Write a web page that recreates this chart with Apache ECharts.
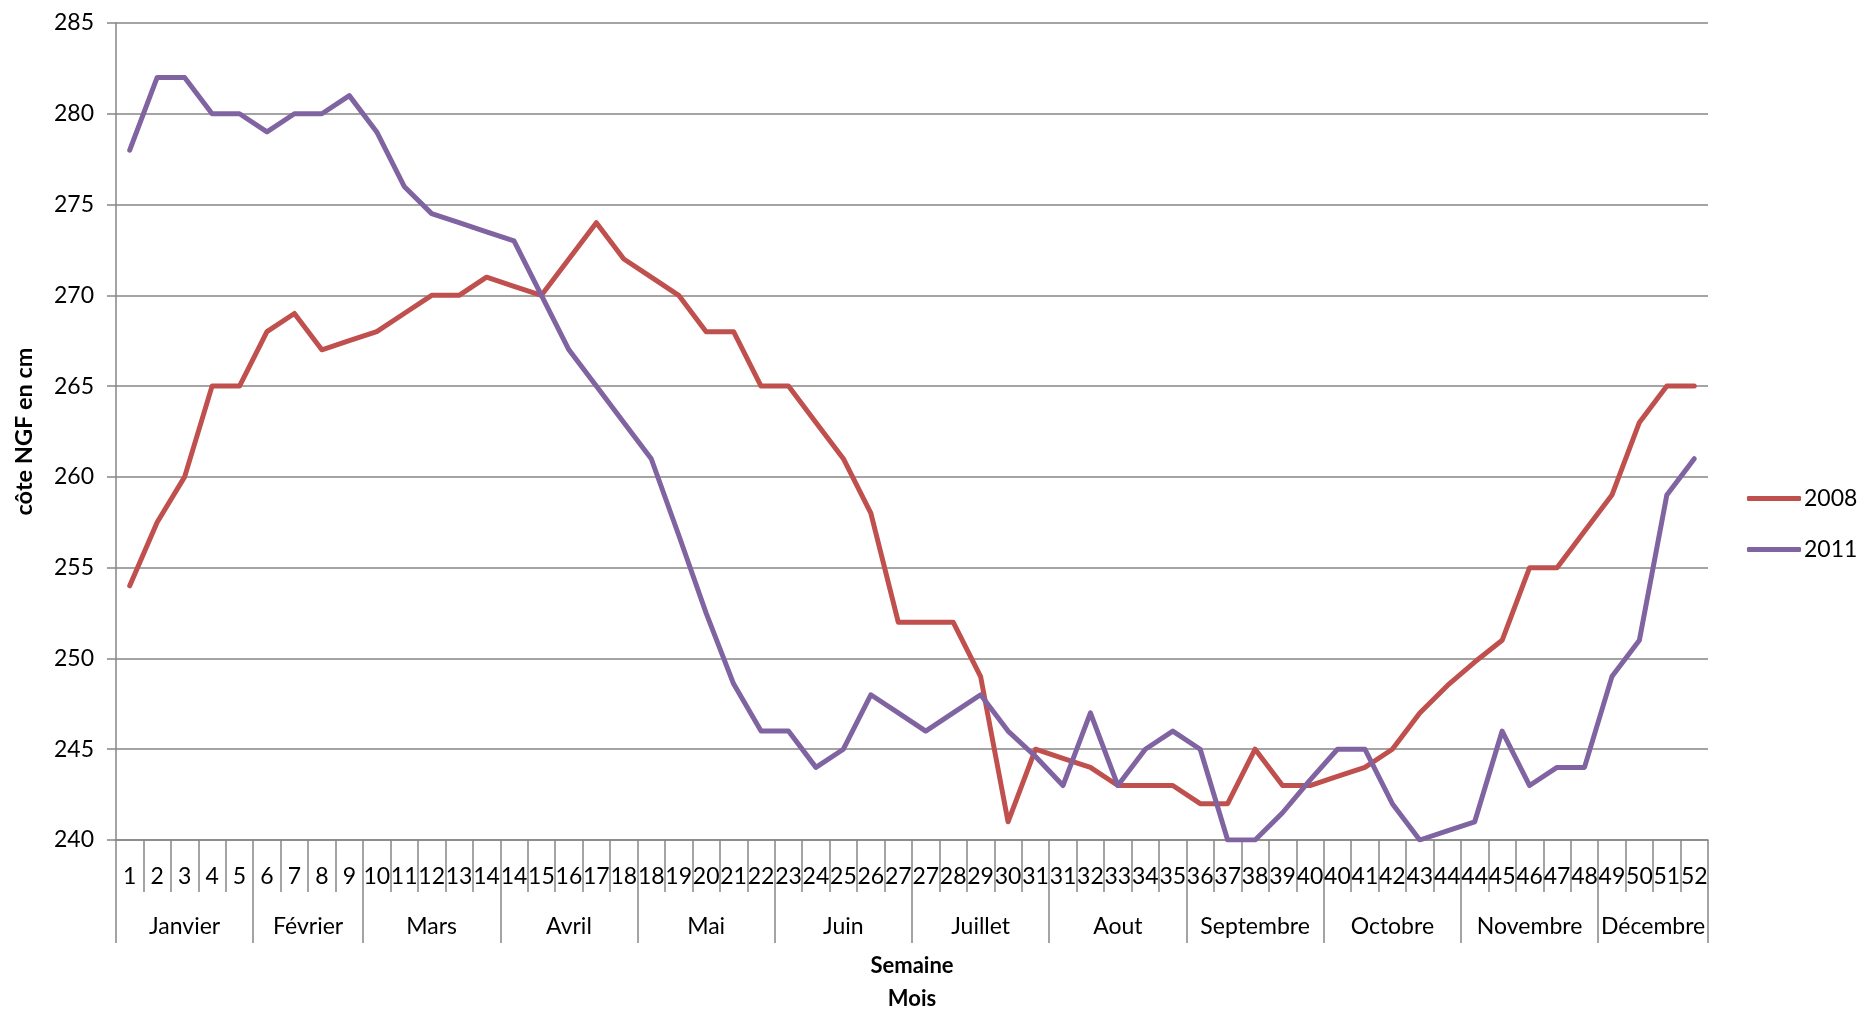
<!DOCTYPE html>
<html>
<head>
<meta charset="utf-8">
<script src="https://cdn.jsdelivr.net/npm/echarts@6/dist/echarts.min.js"></script>
<style>
  html, body { margin: 0; padding: 0; background: #fff; }
  #chart { width: 1865px; height: 1015px; }
</style>
</head>
<body>
<div id="chart"></div>
<script>
// Week numbers along the axis (weeks shared by two months appear twice)
const weeks = ['1','2','3','4','5','6','7','8','9','10','11','12','13','14',
  '14','15','16','17','18','18','19','20','21','22','23','24','25','26','27',
  '27','28','29','30','31','31','32','33','34','35','36','37','38','39','40',
  '40','41','42','43','44','44','45','46','47','48','49','50','51','52'];

// Months and how many week slots each one spans
const months = ['Janvier','Février','Mars','Avril','Mai','Juin','Juillet','Aout',
  'Septembre','Octobre','Novembre','Décembre'];
const monthSpans = [5, 4, 5, 5, 5, 5, 5, 5, 5, 5, 5, 4];

// Water level (côte NGF, cm) per week slot
const level2008 = [254, 257.5, 260, 265, 265, 268, 269, 267, 267.5, 268, 269, 270, 270, 271,
  270.5, 270, 272, 274, 272, 271, 270, 268, 268, 265, 265, 263, 261, 258, 252,
  252, 252, 249, 241, 245, 244.5, 244, 243, 243, 243, 242, 242, 245, 243, 243,
  243.5, 244, 245, 247, 248.5, 249.8, 251, 255, 255, 257, 259, 263, 265, 265];
const level2011 = [278, 282, 282, 280, 280, 279, 280, 280, 281, 279, 276, 274.5, 274, 273.5,
  273, 270, 267, 265, 263, 261, 256.8, 252.5, 248.6, 246, 246, 244, 245, 248, 247,
  246, 247, 248, 246, 244.6, 243, 247, 243, 245, 246, 245, 240, 240, 241.5, 243.3,
  245, 245, 242, 240, 240.5, 241, 246, 243, 244, 244, 249, 251, 259, 261];

const yMin = 240, yMax = 285, yStep = 5;

// Month boundaries and label positions on the week scale
const monthBounds = [0];
const monthCenters = [];
monthSpans.forEach(function (n, i) {
  monthCenters.push(monthBounds[i] + n / 2);
  monthBounds.push(monthBounds[i] + n);
});

const FONT = 'Lato, "Liberation Sans", sans-serif';
const GRID = '#868686';

const chart = echarts.init(document.getElementById('chart'), null, { renderer: 'canvas' });
chart.setOption({
  backgroundColor: '#ffffff',
  animation: false,
  textStyle: { fontFamily: FONT, color: '#000' },
  grid: { left: 116, right: 157, top: 23, bottom: 169, containLabel: false },
  legend: {
    orient: 'vertical',
    left: 1742,
    top: 482,
    icon: 'roundRect',
    itemWidth: 54,
    itemHeight: 5,
    itemGap: 28,
    textStyle: { fontFamily: FONT, fontSize: 23, color: '#000', padding: [0, 0, 0, -2] },
    data: ['2008', '2011']
  },
  xAxis: [
    {
      type: 'category',
      data: weeks,
      boundaryGap: true,
      position: 'bottom',
      name: 'Semaine',
      nameLocation: 'middle',
      nameGap: 115,
      nameTextStyle: { fontFamily: FONT, fontSize: 22, fontWeight: 'bold', color: '#000' },
      axisLine: { show: true, lineStyle: { color: GRID, width: 1.5 } },
      axisTick: { show: true, interval: 0, length: 52, lineStyle: { color: GRID, width: 1.5 } },
      axisLabel: { interval: 0, margin: 25, fontSize: 23, color: '#000', fontFamily: FONT },
      splitLine: { show: false }
    },
    {
      type: 'value',
      min: 0,
      max: weeks.length,
      position: 'bottom',
      name: 'Mois',
      nameLocation: 'middle',
      nameGap: 148,
      nameTextStyle: { fontFamily: FONT, fontSize: 22, fontWeight: 'bold', color: '#000' },
      axisLine: { show: false },
      axisTick: { show: true, customValues: monthBounds, length: 103, lineStyle: { color: GRID, width: 1.5 } },
      axisLabel: {
        customValues: monthCenters,
        margin: 75,
        fontSize: 23,
        color: '#000',
        fontFamily: FONT,
        formatter: function (v) {
          const i = monthCenters.indexOf(v);
          return i >= 0 ? months[i] : '';
        }
      },
      splitLine: { show: false }
    }
  ],
  yAxis: {
    type: 'value',
    min: yMin,
    max: yMax,
    interval: yStep,
    name: 'côte NGF en cm',
    nameLocation: 'middle',
    nameGap: 80,
    nameRotate: 90,
    nameTextStyle: { fontFamily: FONT, fontSize: 23.5, fontWeight: 'bold', color: '#000' },
    axisLine: { show: true, lineStyle: { color: GRID, width: 1.5 } },
    axisTick: { show: true, length: 9, lineStyle: { color: GRID, width: 1.5 } },
    axisLabel: { margin: 22, fontSize: 23, color: '#000', fontFamily: FONT },
    splitLine: { show: true, lineStyle: { color: GRID, width: 1.5 } }
  },
  series: [
    {
      name: '2008',
      type: 'line',
      xAxisIndex: 0,
      data: level2008,
      symbol: 'none',
      smooth: false,
      color: '#C0504D',
      lineStyle: { width: 5, color: '#C0504D', cap: 'round', join: 'round' }
    },
    {
      name: '2011',
      type: 'line',
      xAxisIndex: 0,
      data: level2011,
      symbol: 'none',
      smooth: false,
      color: '#8064A2',
      lineStyle: { width: 5, color: '#8064A2', cap: 'round', join: 'round' }
    }
  ]
});
</script>
</body>
</html>
